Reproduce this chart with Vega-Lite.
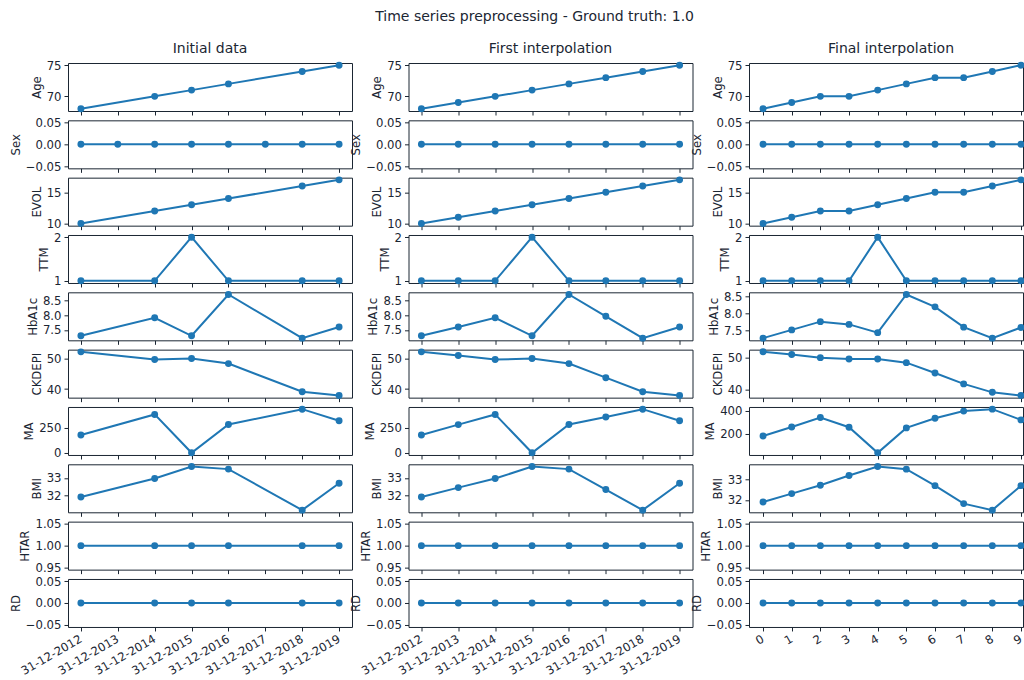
{
"$schema": "https://vega.github.io/schema/vega-lite/v6.json",
"padding": {"left": 9, "right": 0, "top": 9, "bottom": 2},
"title": {"text": "Time series preprocessing - Ground truth: 1.0", "fontSize": 14, "anchor": "middle", "offset": 18, "dx": 17},
"columns": 3,
"bounds": "flush",
"spacing": {"row": 9.33, "column": 56.5},
"datasets": {
"initial": [
{"date":"31-12-2012","Age":68,"Sex":0,"EVOL":10,"TTM":1,"HbA1c":7.30,"CKDEPI":52.07,"MA":177,"BMI":31.9,"HTAR":1,"RD":0},
{"date":"31-12-2013","Age":null,"Sex":0,"EVOL":null,"TTM":null,"HbA1c":null,"CKDEPI":null,"MA":null,"BMI":null,"HTAR":null,"RD":null},
{"date":"31-12-2014","Age":70,"Sex":0,"EVOL":12,"TTM":1,"HbA1c":7.91,"CKDEPI":49.57,"MA":380,"BMI":32.96,"HTAR":1,"RD":0},
{"date":"31-12-2015","Age":71,"Sex":0,"EVOL":13,"TTM":2,"HbA1c":7.30,"CKDEPI":49.9,"MA":0,"BMI":33.65,"HTAR":1,"RD":0},
{"date":"31-12-2016","Age":72,"Sex":0,"EVOL":14,"TTM":1,"HbA1c":8.70,"CKDEPI":48.26,"MA":280,"BMI":33.5,"HTAR":1,"RD":0},
{"date":"31-12-2017","Age":null,"Sex":0,"EVOL":null,"TTM":null,"HbA1c":null,"CKDEPI":null,"MA":null,"BMI":null,"HTAR":null,"RD":null},
{"date":"31-12-2018","Age":74,"Sex":0,"EVOL":16,"TTM":1,"HbA1c":7.22,"CKDEPI":39.13,"MA":432,"BMI":31.15,"HTAR":1,"RD":0},
{"date":"31-12-2019","Age":75,"Sex":0,"EVOL":17,"TTM":1,"HbA1c":7.60,"CKDEPI":37.93,"MA":317,"BMI":32.69,"HTAR":1,"RD":0}
],
"first": [
{"date":"31-12-2012","Age":68,"Sex":0,"EVOL":10,"TTM":1,"HbA1c":7.30,"CKDEPI":52.07,"MA":177,"BMI":31.9,"HTAR":1,"RD":0},
{"date":"31-12-2013","Age":69,"Sex":0,"EVOL":11,"TTM":1,"HbA1c":7.60,"CKDEPI":50.87,"MA":279,"BMI":32.44,"HTAR":1,"RD":0},
{"date":"31-12-2014","Age":70,"Sex":0,"EVOL":12,"TTM":1,"HbA1c":7.91,"CKDEPI":49.57,"MA":380,"BMI":32.96,"HTAR":1,"RD":0},
{"date":"31-12-2015","Age":71,"Sex":0,"EVOL":13,"TTM":2,"HbA1c":7.30,"CKDEPI":49.9,"MA":0,"BMI":33.65,"HTAR":1,"RD":0},
{"date":"31-12-2016","Age":72,"Sex":0,"EVOL":14,"TTM":1,"HbA1c":8.70,"CKDEPI":48.26,"MA":280,"BMI":33.5,"HTAR":1,"RD":0},
{"date":"31-12-2017","Age":73,"Sex":0,"EVOL":15,"TTM":1,"HbA1c":7.96,"CKDEPI":43.7,"MA":355,"BMI":32.33,"HTAR":1,"RD":0},
{"date":"31-12-2018","Age":74,"Sex":0,"EVOL":16,"TTM":1,"HbA1c":7.22,"CKDEPI":39.13,"MA":432,"BMI":31.15,"HTAR":1,"RD":0},
{"date":"31-12-2019","Age":75,"Sex":0,"EVOL":17,"TTM":1,"HbA1c":7.60,"CKDEPI":37.93,"MA":317,"BMI":32.69,"HTAR":1,"RD":0}
],
"final": [
{"t":0,"Age":68,"Sex":0,"EVOL":10,"TTM":1,"HbA1c":7.28,"CKDEPI":51.96,"MA":179,"BMI":31.9,"HTAR":1,"RD":0},
{"t":1,"Age":69,"Sex":0,"EVOL":11,"TTM":1,"HbA1c":7.52,"CKDEPI":51.09,"MA":258,"BMI":32.31,"HTAR":1,"RD":0},
{"t":2,"Age":70,"Sex":0,"EVOL":12,"TTM":1,"HbA1c":7.76,"CKDEPI":50.1,"MA":341,"BMI":32.72,"HTAR":1,"RD":0},
{"t":3,"Age":70,"Sex":0,"EVOL":12,"TTM":1,"HbA1c":7.68,"CKDEPI":49.67,"MA":256,"BMI":33.2,"HTAR":1,"RD":0},
{"t":4,"Age":71,"Sex":0,"EVOL":13,"TTM":2,"HbA1c":7.44,"CKDEPI":49.67,"MA":32,"BMI":33.64,"HTAR":1,"RD":0},
{"t":5,"Age":72,"Sex":0,"EVOL":14,"TTM":1,"HbA1c":8.55,"CKDEPI":48.5,"MA":250,"BMI":33.51,"HTAR":1,"RD":0},
{"t":6,"Age":73,"Sex":0,"EVOL":15,"TTM":1,"HbA1c":8.19,"CKDEPI":45.2,"MA":335,"BMI":32.7,"HTAR":1,"RD":0},
{"t":7,"Age":73,"Sex":0,"EVOL":15,"TTM":1,"HbA1c":7.60,"CKDEPI":41.7,"MA":397,"BMI":31.82,"HTAR":1,"RD":0},
{"t":8,"Age":74,"Sex":0,"EVOL":16,"TTM":1,"HbA1c":7.28,"CKDEPI":39.0,"MA":414,"BMI":31.5,"HTAR":1,"RD":0},
{"t":9,"Age":75,"Sex":0,"EVOL":17,"TTM":1,"HbA1c":7.59,"CKDEPI":38.0,"MA":320,"BMI":32.7,"HTAR":1,"RD":0}
]
},
"concat": [
{"data":{"name":"initial"},"width":284,"height":48,"title":{"text":"Initial data"},"mark":{"type":"line","point":true},
 "encoding":{"x":{"field":"date","type":"ordinal","scale":{"type":"point","padding":0.35,"domain":["31-12-2012","31-12-2013","31-12-2014","31-12-2015","31-12-2016","31-12-2017","31-12-2018","31-12-2019"]},"axis":{"labels":false,"title":null}},
 "y":{"field":"Age","type":"quantitative","scale":{"domain":[67.65,75.35],"nice":false,"zero":false},"axis":{"values":[70,75],"title":"Age"}}}},
{"data":{"name":"first"},"width":284,"height":48,"title":{"text":"First interpolation"},"mark":{"type":"line","point":true},
 "encoding":{"x":{"field":"date","type":"ordinal","scale":{"type":"point","padding":0.35,"domain":["31-12-2012","31-12-2013","31-12-2014","31-12-2015","31-12-2016","31-12-2017","31-12-2018","31-12-2019"]},"axis":{"labels":false,"title":null}},
 "y":{"field":"Age","type":"quantitative","scale":{"domain":[67.65,75.35],"nice":false,"zero":false},"axis":{"values":[70,75],"title":"Age"}}}},
{"data":{"name":"final"},"width":274,"height":48,"title":{"text":"Final interpolation","dx":5},"mark":{"type":"line","point":true},
 "encoding":{"x":{"field":"t","type":"quantitative","scale":{"domain":[-0.49,9.07],"nice":false,"zero":false},"axis":{"values":[0,1,2,3,4,5,6,7,8,9],"labels":false,"title":null}},
 "y":{"field":"Age","type":"quantitative","scale":{"domain":[67.65,75.35],"nice":false,"zero":false},"axis":{"values":[70,75],"title":"Age"}}}},

{"data":{"name":"initial"},"width":284,"height":48,"mark":{"type":"line","point":true},
 "encoding":{"x":{"field":"date","type":"ordinal","scale":{"type":"point","padding":0.35,"domain":["31-12-2012","31-12-2013","31-12-2014","31-12-2015","31-12-2016","31-12-2017","31-12-2018","31-12-2019"]},"axis":{"labels":false,"title":null}},
 "y":{"field":"Sex","type":"quantitative","scale":{"domain":[-0.055,0.055],"nice":false,"zero":false},"axis":{"values":[-0.05,0,0.05],"format":".2f","title":"Sex"}}}},
{"data":{"name":"first"},"width":284,"height":48,"mark":{"type":"line","point":true},
 "encoding":{"x":{"field":"date","type":"ordinal","scale":{"type":"point","padding":0.35,"domain":["31-12-2012","31-12-2013","31-12-2014","31-12-2015","31-12-2016","31-12-2017","31-12-2018","31-12-2019"]},"axis":{"labels":false,"title":null}},
 "y":{"field":"Sex","type":"quantitative","scale":{"domain":[-0.055,0.055],"nice":false,"zero":false},"axis":{"values":[-0.05,0,0.05],"format":".2f","title":"Sex"}}}},
{"data":{"name":"final"},"width":274,"height":48,"mark":{"type":"line","point":true},
 "encoding":{"x":{"field":"t","type":"quantitative","scale":{"domain":[-0.49,9.07],"nice":false,"zero":false},"axis":{"values":[0,1,2,3,4,5,6,7,8,9],"labels":false,"title":null}},
 "y":{"field":"Sex","type":"quantitative","scale":{"domain":[-0.055,0.055],"nice":false,"zero":false},"axis":{"values":[-0.05,0,0.05],"format":".2f","title":"Sex"}}}},

{"data":{"name":"initial"},"width":284,"height":48,"mark":{"type":"line","point":true},
 "encoding":{"x":{"field":"date","type":"ordinal","scale":{"type":"point","padding":0.35,"domain":["31-12-2012","31-12-2013","31-12-2014","31-12-2015","31-12-2016","31-12-2017","31-12-2018","31-12-2019"]},"axis":{"labels":false,"title":null}},
 "y":{"field":"EVOL","type":"quantitative","scale":{"domain":[9.65,17.35],"nice":false,"zero":false},"axis":{"values":[10,15],"title":"EVOL"}}}},
{"data":{"name":"first"},"width":284,"height":48,"mark":{"type":"line","point":true},
 "encoding":{"x":{"field":"date","type":"ordinal","scale":{"type":"point","padding":0.35,"domain":["31-12-2012","31-12-2013","31-12-2014","31-12-2015","31-12-2016","31-12-2017","31-12-2018","31-12-2019"]},"axis":{"labels":false,"title":null}},
 "y":{"field":"EVOL","type":"quantitative","scale":{"domain":[9.65,17.35],"nice":false,"zero":false},"axis":{"values":[10,15],"title":"EVOL"}}}},
{"data":{"name":"final"},"width":274,"height":48,"mark":{"type":"line","point":true},
 "encoding":{"x":{"field":"t","type":"quantitative","scale":{"domain":[-0.49,9.07],"nice":false,"zero":false},"axis":{"values":[0,1,2,3,4,5,6,7,8,9],"labels":false,"title":null}},
 "y":{"field":"EVOL","type":"quantitative","scale":{"domain":[9.65,17.35],"nice":false,"zero":false},"axis":{"values":[10,15],"title":"EVOL"}}}},

{"data":{"name":"initial"},"width":284,"height":48,"mark":{"type":"line","point":true},
 "encoding":{"x":{"field":"date","type":"ordinal","scale":{"type":"point","padding":0.35,"domain":["31-12-2012","31-12-2013","31-12-2014","31-12-2015","31-12-2016","31-12-2017","31-12-2018","31-12-2019"]},"axis":{"labels":false,"title":null}},
 "y":{"field":"TTM","type":"quantitative","scale":{"domain":[0.95,2.05],"nice":false,"zero":false},"axis":{"values":[1,2],"format":"d","title":"TTM"}}}},
{"data":{"name":"first"},"width":284,"height":48,"mark":{"type":"line","point":true},
 "encoding":{"x":{"field":"date","type":"ordinal","scale":{"type":"point","padding":0.35,"domain":["31-12-2012","31-12-2013","31-12-2014","31-12-2015","31-12-2016","31-12-2017","31-12-2018","31-12-2019"]},"axis":{"labels":false,"title":null}},
 "y":{"field":"TTM","type":"quantitative","scale":{"domain":[0.95,2.05],"nice":false,"zero":false},"axis":{"values":[1,2],"format":"d","title":"TTM"}}}},
{"data":{"name":"final"},"width":274,"height":48,"mark":{"type":"line","point":true},
 "encoding":{"x":{"field":"t","type":"quantitative","scale":{"domain":[-0.49,9.07],"nice":false,"zero":false},"axis":{"values":[0,1,2,3,4,5,6,7,8,9],"labels":false,"title":null}},
 "y":{"field":"TTM","type":"quantitative","scale":{"domain":[0.95,2.05],"nice":false,"zero":false},"axis":{"values":[1,2],"format":"d","title":"TTM"}}}},

{"data":{"name":"initial"},"width":284,"height":48,"mark":{"type":"line","point":true},
 "encoding":{"x":{"field":"date","type":"ordinal","scale":{"type":"point","padding":0.35,"domain":["31-12-2012","31-12-2013","31-12-2014","31-12-2015","31-12-2016","31-12-2017","31-12-2018","31-12-2019"]},"axis":{"labels":false,"title":null}},
 "y":{"field":"HbA1c","type":"quantitative","scale":{"domain":[7.146,8.774],"nice":false,"zero":false},"axis":{"values":[7.5,8.0,8.5],"format":".1f","title":"HbA1c"}}}},
{"data":{"name":"first"},"width":284,"height":48,"mark":{"type":"line","point":true},
 "encoding":{"x":{"field":"date","type":"ordinal","scale":{"type":"point","padding":0.35,"domain":["31-12-2012","31-12-2013","31-12-2014","31-12-2015","31-12-2016","31-12-2017","31-12-2018","31-12-2019"]},"axis":{"labels":false,"title":null}},
 "y":{"field":"HbA1c","type":"quantitative","scale":{"domain":[7.146,8.774],"nice":false,"zero":false},"axis":{"values":[7.5,8.0,8.5],"format":".1f","title":"HbA1c"}}}},
{"data":{"name":"final"},"width":274,"height":48,"mark":{"type":"line","point":true},
 "encoding":{"x":{"field":"t","type":"quantitative","scale":{"domain":[-0.49,9.07],"nice":false,"zero":false},"axis":{"values":[0,1,2,3,4,5,6,7,8,9],"labels":false,"title":null}},
 "y":{"field":"HbA1c","type":"quantitative","scale":{"domain":[7.2165,8.6135],"nice":false,"zero":false},"axis":{"values":[7.5,8.0,8.5],"format":".1f","title":"HbA1c"}}}},

{"data":{"name":"initial"},"width":284,"height":48,"mark":{"type":"line","point":true},
 "encoding":{"x":{"field":"date","type":"ordinal","scale":{"type":"point","padding":0.35,"domain":["31-12-2012","31-12-2013","31-12-2014","31-12-2015","31-12-2016","31-12-2017","31-12-2018","31-12-2019"]},"axis":{"labels":false,"title":null}},
 "y":{"field":"CKDEPI","type":"quantitative","scale":{"domain":[37.22,52.78],"nice":false,"zero":false},"axis":{"values":[40,50],"title":"CKDEPI"}}}},
{"data":{"name":"first"},"width":284,"height":48,"mark":{"type":"line","point":true},
 "encoding":{"x":{"field":"date","type":"ordinal","scale":{"type":"point","padding":0.35,"domain":["31-12-2012","31-12-2013","31-12-2014","31-12-2015","31-12-2016","31-12-2017","31-12-2018","31-12-2019"]},"axis":{"labels":false,"title":null}},
 "y":{"field":"CKDEPI","type":"quantitative","scale":{"domain":[37.22,52.78],"nice":false,"zero":false},"axis":{"values":[40,50],"title":"CKDEPI"}}}},
{"data":{"name":"final"},"width":274,"height":48,"mark":{"type":"line","point":true},
 "encoding":{"x":{"field":"t","type":"quantitative","scale":{"domain":[-0.49,9.07],"nice":false,"zero":false},"axis":{"values":[0,1,2,3,4,5,6,7,8,9],"labels":false,"title":null}},
 "y":{"field":"CKDEPI","type":"quantitative","scale":{"domain":[37.3,52.66],"nice":false,"zero":false},"axis":{"values":[40,50],"title":"CKDEPI"}}}},

{"data":{"name":"initial"},"width":284,"height":48,"mark":{"type":"line","point":true},
 "encoding":{"x":{"field":"date","type":"ordinal","scale":{"type":"point","padding":0.35,"domain":["31-12-2012","31-12-2013","31-12-2014","31-12-2015","31-12-2016","31-12-2017","31-12-2018","31-12-2019"]},"axis":{"labels":false,"title":null}},
 "y":{"field":"MA","type":"quantitative","scale":{"domain":[-21.6,453.6],"nice":false,"zero":false},"axis":{"values":[0,250],"title":"MA"}}}},
{"data":{"name":"first"},"width":284,"height":48,"mark":{"type":"line","point":true},
 "encoding":{"x":{"field":"date","type":"ordinal","scale":{"type":"point","padding":0.35,"domain":["31-12-2012","31-12-2013","31-12-2014","31-12-2015","31-12-2016","31-12-2017","31-12-2018","31-12-2019"]},"axis":{"labels":false,"title":null}},
 "y":{"field":"MA","type":"quantitative","scale":{"domain":[-21.6,453.6],"nice":false,"zero":false},"axis":{"values":[0,250],"title":"MA"}}}},
{"data":{"name":"final"},"width":274,"height":48,"mark":{"type":"line","point":true},
 "encoding":{"x":{"field":"t","type":"quantitative","scale":{"domain":[-0.49,9.07],"nice":false,"zero":false},"axis":{"values":[0,1,2,3,4,5,6,7,8,9],"labels":false,"title":null}},
 "y":{"field":"MA","type":"quantitative","scale":{"domain":[13,433],"nice":false,"zero":false},"axis":{"values":[200,400],"title":"MA"}}}},

{"data":{"name":"initial"},"width":284,"height":48,"mark":{"type":"line","point":true},
 "encoding":{"x":{"field":"date","type":"ordinal","scale":{"type":"point","padding":0.35,"domain":["31-12-2012","31-12-2013","31-12-2014","31-12-2015","31-12-2016","31-12-2017","31-12-2018","31-12-2019"]},"axis":{"labels":false,"title":null}},
 "y":{"field":"BMI","type":"quantitative","scale":{"domain":[31.025,33.775],"nice":false,"zero":false},"axis":{"values":[32,33],"title":"BMI"}}}},
{"data":{"name":"first"},"width":284,"height":48,"mark":{"type":"line","point":true},
 "encoding":{"x":{"field":"date","type":"ordinal","scale":{"type":"point","padding":0.35,"domain":["31-12-2012","31-12-2013","31-12-2014","31-12-2015","31-12-2016","31-12-2017","31-12-2018","31-12-2019"]},"axis":{"labels":false,"title":null}},
 "y":{"field":"BMI","type":"quantitative","scale":{"domain":[31.025,33.775],"nice":false,"zero":false},"axis":{"values":[32,33],"title":"BMI"}}}},
{"data":{"name":"final"},"width":274,"height":48,"mark":{"type":"line","point":true},
 "encoding":{"x":{"field":"t","type":"quantitative","scale":{"domain":[-0.49,9.07],"nice":false,"zero":false},"axis":{"values":[0,1,2,3,4,5,6,7,8,9],"labels":false,"title":null}},
 "y":{"field":"BMI","type":"quantitative","scale":{"domain":[31.393,33.747],"nice":false,"zero":false},"axis":{"values":[32,33],"title":"BMI"}}}},

{"data":{"name":"initial"},"width":284,"height":48,"mark":{"type":"line","point":true},
 "encoding":{"x":{"field":"date","type":"ordinal","scale":{"type":"point","padding":0.35,"domain":["31-12-2012","31-12-2013","31-12-2014","31-12-2015","31-12-2016","31-12-2017","31-12-2018","31-12-2019"]},"axis":{"labels":false,"title":null}},
 "y":{"field":"HTAR","type":"quantitative","scale":{"domain":[0.945,1.055],"nice":false,"zero":false},"axis":{"values":[0.95,1.0,1.05],"format":".2f","title":"HTAR"}}}},
{"data":{"name":"first"},"width":284,"height":48,"mark":{"type":"line","point":true},
 "encoding":{"x":{"field":"date","type":"ordinal","scale":{"type":"point","padding":0.35,"domain":["31-12-2012","31-12-2013","31-12-2014","31-12-2015","31-12-2016","31-12-2017","31-12-2018","31-12-2019"]},"axis":{"labels":false,"title":null}},
 "y":{"field":"HTAR","type":"quantitative","scale":{"domain":[0.945,1.055],"nice":false,"zero":false},"axis":{"values":[0.95,1.0,1.05],"format":".2f","title":"HTAR"}}}},
{"data":{"name":"final"},"width":274,"height":48,"mark":{"type":"line","point":true},
 "encoding":{"x":{"field":"t","type":"quantitative","scale":{"domain":[-0.49,9.07],"nice":false,"zero":false},"axis":{"values":[0,1,2,3,4,5,6,7,8,9],"labels":false,"title":null}},
 "y":{"field":"HTAR","type":"quantitative","scale":{"domain":[0.945,1.055],"nice":false,"zero":false},"axis":{"values":[0.95,1.0,1.05],"format":".2f","title":"HTAR"}}}},

{"data":{"name":"initial"},"width":284,"height":48,"mark":{"type":"line","point":true},
 "encoding":{"x":{"field":"date","type":"ordinal","scale":{"type":"point","padding":0.35,"domain":["31-12-2012","31-12-2013","31-12-2014","31-12-2015","31-12-2016","31-12-2017","31-12-2018","31-12-2019"]},"axis":{"title":null}},
 "y":{"field":"RD","type":"quantitative","scale":{"domain":[-0.055,0.055],"nice":false,"zero":false},"axis":{"values":[-0.05,0,0.05],"format":".2f","title":"RD"}}}},
{"data":{"name":"first"},"width":284,"height":48,"mark":{"type":"line","point":true},
 "encoding":{"x":{"field":"date","type":"ordinal","scale":{"type":"point","padding":0.35,"domain":["31-12-2012","31-12-2013","31-12-2014","31-12-2015","31-12-2016","31-12-2017","31-12-2018","31-12-2019"]},"axis":{"title":null}},
 "y":{"field":"RD","type":"quantitative","scale":{"domain":[-0.055,0.055],"nice":false,"zero":false},"axis":{"values":[-0.05,0,0.05],"format":".2f","title":"RD"}}}},
{"data":{"name":"final"},"width":274,"height":48,"mark":{"type":"line","point":true},
 "encoding":{"x":{"field":"t","type":"quantitative","scale":{"domain":[-0.49,9.07],"nice":false,"zero":false},"axis":{"values":[0,1,2,3,4,5,6,7,8,9],"title":null}},
 "y":{"field":"RD","type":"quantitative","scale":{"domain":[-0.055,0.055],"nice":false,"zero":false},"axis":{"values":[-0.05,0,0.05],"format":".2f","title":"RD"}}}}
],
"config": {
 "font": "DejaVu Sans",
 "view": {"stroke": "#1b2633", "strokeWidth": 1},
 "mark": {"invalid": "filter"},
 "line": {"color": "#1f77b4", "strokeWidth": 2, "invalid": "filter"},
 "point": {"color": "#1f77b4", "size": 48, "filled": true, "opacity": 1, "invalid": "filter"},
 "title": {"font": "DejaVu Sans", "fontSize": 14, "fontWeight": "normal", "color": "#1b2633", "offset": 4},
 "axis": {"domain": false, "grid": false, "ticks": true, "tickColor": "#1b2633", "tickSize": 4, "tickWidth": 1,
   "labelFont": "DejaVu Sans", "labelFontSize": 11.7, "labelColor": "#1b2633", "labelPadding": 3, "labelFlush": false, "labelOverlap": false, "labelBound": false,
   "titleFont": "DejaVu Sans", "titleFontSize": 11.7, "titleFontWeight": "normal", "titleColor": "#1b2633", "titlePadding": 4},
 "axisX": {"labelAngle": -30, "labelAlign": "right", "labelBaseline": "top", "labelOffset": -3, "labelPadding": 2}
}
}
